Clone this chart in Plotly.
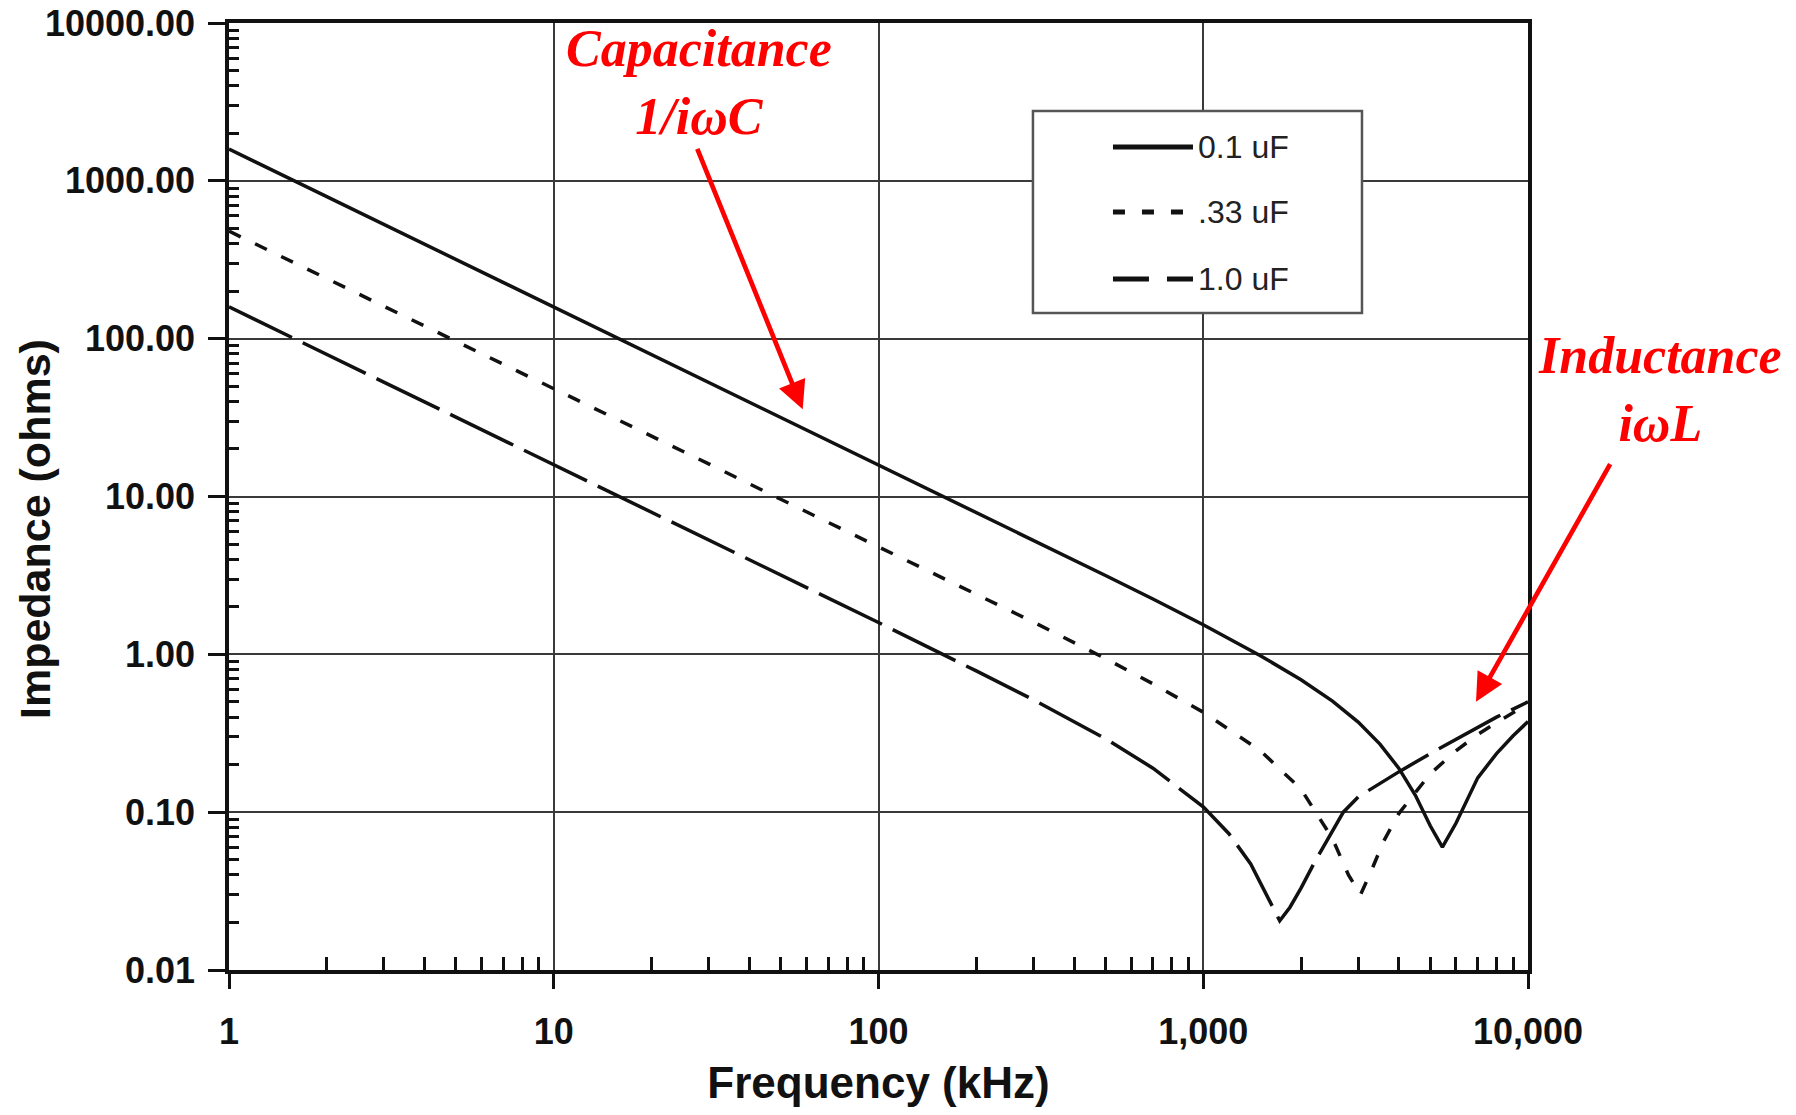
import plotly.graph_objects as go

# ---- data ----
freq_01 = [1, 2, 3, 5, 7, 10, 20, 30, 50, 70, 100, 200, 300, 500, 700, 1000, 1500, 2000,
           2500, 3000, 3500, 4000, 4500, 5000, 5450, 6000, 7000, 8000, 9000, 10000]
z_01 = [1590, 795, 530, 318, 227, 159, 79.5, 53, 31.8, 22.7, 15.9, 7.95, 5.3, 3.16, 2.24,
        1.54, 0.98, 0.69, 0.505, 0.372, 0.27, 0.19, 0.128, 0.082, 0.060, 0.085, 0.165,
        0.235, 0.305, 0.375]

freq_033 = [1, 2, 3, 5, 7, 10, 20, 30, 50, 70, 100, 200, 300, 500, 700, 1000, 1500, 2000,
            2500, 2800, 3050, 3300, 3600, 4000, 5000, 6000, 7000, 8000, 9000, 10000]
z_033 = [480, 241, 161, 96.5, 69, 48.2, 24.1, 16.1, 9.6, 6.9, 4.8, 2.4, 1.6, 0.94, 0.65,
         0.43, 0.245, 0.14, 0.068, 0.04, 0.03, 0.043, 0.066, 0.098, 0.175, 0.245, 0.31,
         0.37, 0.43, 0.485]

freq_1 = [1, 2, 3, 5, 7, 10, 20, 30, 50, 70, 100, 200, 300, 500, 700, 1000, 1200, 1400,
          1600, 1720, 1850, 2000, 2200, 2700, 3000, 4000, 5000, 6000, 7000, 8000, 9000, 10000]
z_1 = [159, 79.6, 53, 31.8, 22.7, 15.9, 7.96, 5.3, 3.18, 2.27, 1.59, 0.785, 0.515, 0.292,
       0.19, 0.108, 0.073, 0.047, 0.027, 0.0205, 0.025, 0.033, 0.048, 0.1, 0.125, 0.18,
       0.235, 0.29, 0.345, 0.4, 0.45, 0.5]

series_names = ["0.1 uF", ".33 uF", "1.0 uF"]
series_dash = ["solid", "13px,16px", "70px,12px"]
legend_dash = ["solid", "12px,17px", "36px,18px"]

x_tickvals = [1, 10, 100, 1000, 10000]
x_ticktext = ["1", "10", "100", "1,000", "10,000"]
y_tickvals = [0.01, 0.1, 1, 10, 100, 1000, 10000]
y_ticktext = ["0.01", "0.10", "1.00", "10.00", "100.00", "1000.00", "10000.00"]

x_minor = [m * 10 ** d for d in range(0, 4) for m in range(2, 10)]
y_minor = [m * 10 ** d for d in range(-2, 4) for m in range(2, 10)]

SANS = "Liberation Sans, Arial, Helvetica, sans-serif"
SERIF = "Liberation Serif, Times New Roman, serif"
INK = "#111111"
RED = "#ff0000"

fig = go.Figure()
for xs, ys, nm, dsh in zip([freq_01, freq_033, freq_1], [z_01, z_033, z_1],
                           series_names, series_dash):
    fig.add_trace(go.Scatter(x=xs, y=ys, mode="lines", name=nm, showlegend=False,
                             line=dict(color=INK, width=3.5, dash=dsh)))

axis_common = dict(
    type="log", automargin=False,
    showline=True, linecolor=INK, linewidth=3.5, mirror=True,
    showgrid=True, gridcolor="#3a3a3a", gridwidth=2,
    ticks="outside", tickcolor=INK, tickwidth=3,
    tickmode="array", zeroline=False,
    ticklabeloverflow="allow",
)

fig.update_xaxes(
    **axis_common,
    range=[0, 4],
    tickvals=x_tickvals, ticktext=x_ticktext,
    ticklen=15, ticklabelstandoff=12,
    tickfont=dict(family=SANS, size=36, color=INK, weight="bold"),
    minor=dict(tickmode="array", tickvals=x_minor, ticks="inside", ticklen=13,
               tickwidth=2.5, tickcolor=INK, showgrid=False),
    title=dict(text="<b>Frequency (kHz)</b>", font=dict(family=SANS, size=44, color=INK),
               standoff=17),
)
fig.update_yaxes(
    **axis_common,
    range=[-2, 4],
    tickvals=y_tickvals, ticktext=y_ticktext,
    ticklen=17, ticklabelstandoff=6,
    tickfont=dict(family=SANS, size=36, color=INK, weight="bold"),
    minor=dict(tickmode="array", tickvals=y_minor, ticks="inside", ticklen=10,
               tickwidth=2.5, tickcolor=INK, showgrid=False),
)

annotations = [
    # y-axis title
    dict(text="<b>Impedance (ohms)</b>", xref="paper", yref="paper", x=-0.1493, y=0.4657,
         xanchor="center", yanchor="middle", textangle=-90, showarrow=False,
         font=dict(family=SANS, size=43, color=INK)),
    dict(text="<b><i>Capacitance<br>1/iωC</i></b>", xref="paper", yref="paper",
         x=0.3618, y=0.937, xanchor="center", yanchor="middle", showarrow=False,
         font=dict(family=SERIF, size=52, color=RED)),
    dict(text="<b><i>Inductance<br>iωL</i></b>", xref="paper", yref="paper",
         x=1.1016, y=0.6135, xanchor="center", yanchor="middle", showarrow=False,
         font=dict(family=SERIF, size=52, color=RED)),
    # arrows (tip in log10 data units)
    dict(text="", x=1.7666, y=1.5524, xref="x", yref="y", showarrow=True,
         ax=-106, ay=-262, arrowhead=2, arrowsize=1.2, arrowwidth=4.7, arrowcolor=RED,
         standoff=0),
    dict(text="", x=3.8399, y=-0.300, xref="x", yref="y", showarrow=True,
         ax=135, ay=-239, arrowhead=2, arrowsize=1.2, arrowwidth=4.7, arrowcolor=RED,
         standoff=0),
]

# legend box drawn as layout decoration (paper coordinates)
shapes = [dict(type="rect", xref="paper", yref="paper", x0=0.6189, x1=0.8722,
               y0=0.6938, y1=0.9071, line=dict(color="#555555", width=2.5),
               fillcolor="white", layer="above")]
row_y = [0.8691, 0.8004, 0.7297]
for nm, dsh, ry in zip(series_names, legend_dash, row_y):
    shapes.append(dict(type="line", xref="paper", yref="paper", x0=0.6805, x1=0.7421,
                       y0=ry, y1=ry, line=dict(color=INK, width=5, dash=dsh),
                       layer="above"))
    annotations.append(dict(text=nm, xref="paper", yref="paper", x=0.7445, y=ry,
                            xanchor="left", yanchor="middle", showarrow=False,
                            font=dict(family=SANS, size=32, color="#222222")))

# the page body adds an 8px offset, so margins are reduced by 8px on the left/top
fig.update_layout(
    width=1796, height=1115,
    margin=dict(l=221, r=276, t=15, b=153),
    paper_bgcolor="white", plot_bgcolor="white",
    showlegend=False,
    annotations=annotations,
    shapes=shapes,
)

fig.write_html("out.html")
